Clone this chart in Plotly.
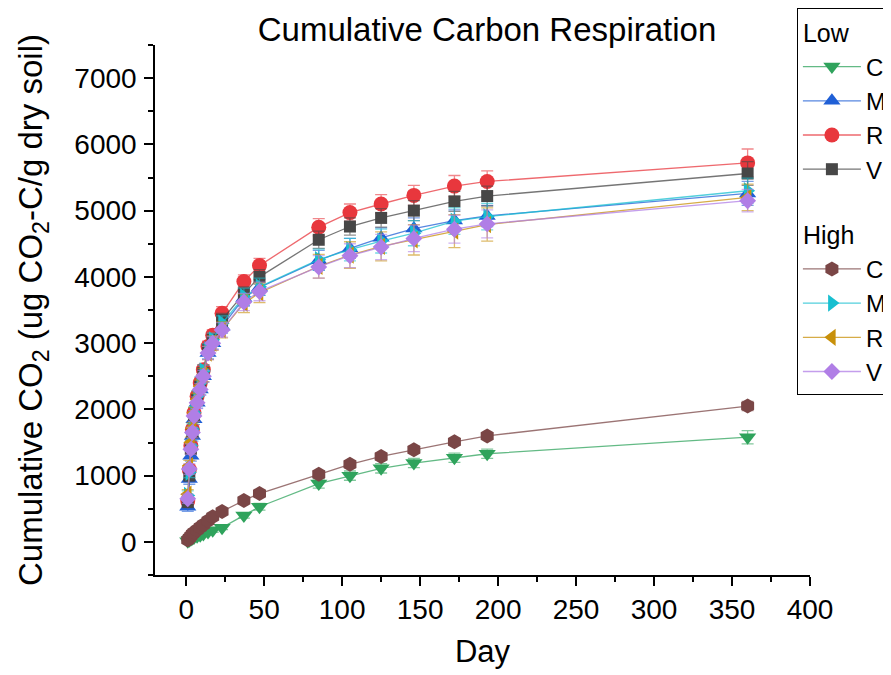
import plotly.graph_objects as go

days = [1, 2, 3, 4, 5, 7, 9, 11, 14, 17, 23, 37, 47, 85, 105, 125, 146, 172, 193, 360]

low_c = [10, 25, 40, 55, 65, 85, 100, 120, 150, 175, 215, 400, 530, 880, 1000, 1110, 1190, 1270, 1330, 1580]
low_m = [530, 950, 1300, 1600, 1850, 2100, 2300, 2500, 2850, 3000, 3250, 3680, 3840, 4250, 4430, 4590, 4730, 4850, 4920, 5260]
low_r = [620, 1090, 1450, 1700, 1950, 2200, 2400, 2600, 2950, 3120, 3450, 3930, 4170, 4750, 4970, 5100, 5230, 5370, 5440, 5720]
low_v = [600, 1000, 1400, 1650, 1900, 2150, 2350, 2550, 2900, 3050, 3350, 3750, 4000, 4560, 4760, 4890, 5000, 5140, 5220, 5560]
high_c = [30, 60, 90, 120, 140, 180, 220, 260, 320, 380, 460, 625, 730, 1020, 1170, 1290, 1390, 1510, 1600, 2050]
high_m = [700, 1050, 1450, 1700, 1950, 2200, 2400, 2580, 2900, 3050, 3300, 3700, 3850, 4260, 4410, 4540, 4660, 4840, 4910, 5300]
high_r = [720, 1150, 1500, 1720, 1950, 2150, 2350, 2520, 2850, 3000, 3200, 3600, 3760, 4160, 4330, 4460, 4560, 4690, 4790, 5200]
high_v = [650, 1100, 1400, 1650, 1900, 2100, 2300, 2500, 2850, 3000, 3200, 3620, 3780, 4150, 4320, 4450, 4580, 4720, 4800, 5150]

err_low_c = [10, 10, 15, 15, 20, 20, 25, 25, 30, 30, 30, 40, 50, 70, 70, 70, 70, 70, 70, 100]
err_low_m = [70, 80, 80, 80, 80, 80, 80, 90, 90, 90, 100, 120, 120, 150, 150, 150, 160, 160, 160, 180]
err_low_r = [60, 60, 60, 60, 60, 70, 70, 70, 80, 80, 100, 100, 110, 130, 130, 140, 150, 160, 160, 210]
err_low_v = [60, 60, 60, 60, 60, 70, 70, 70, 80, 80, 100, 100, 110, 130, 130, 140, 150, 150, 150, 180]
err_high_c = [15, 15, 20, 20, 20, 25, 25, 30, 30, 30, 30, 40, 40, 50, 50, 50, 50, 50, 50, 70]
err_high_m = [70, 80, 80, 80, 80, 80, 90, 90, 90, 100, 110, 130, 130, 160, 170, 180, 190, 200, 200, 190]
err_high_r = [70, 80, 80, 80, 80, 90, 90, 100, 100, 110, 120, 140, 150, 180, 200, 220, 230, 250, 250, 200]
err_high_v = [70, 80, 80, 80, 80, 90, 90, 90, 100, 100, 110, 130, 140, 170, 180, 190, 200, 210, 210, 170]

series = [
    ("low", "Low", "C", low_c, err_low_c, "#2fa35c", "triangle-down", 15),
    ("low", "Low", "M", low_m, err_low_m, "#1f5fd6", "triangle-up", 15),
    ("low", "Low", "R", low_r, err_low_r, "#e8373d", "circle", 15),
    ("low", "Low", "V", low_v, err_low_v, "#474747", "square", 12),
    ("high", "High", "C", high_c, err_high_c, "#7a4646", "hexagon", 15),
    ("high", "High", "M", high_m, err_high_m, "#18bfd0", "triangle-right", 15),
    ("high", "High", "R", high_r, err_high_r, "#c8900a", "triangle-left", 15),
    ("high", "High", "V", high_v, err_high_v, "#b07ee6", "diamond", 13),
]


def rgba(hex_color, a):
    h = hex_color.lstrip("#")
    r, g, b = int(h[0:2], 16), int(h[2:4], 16), int(h[4:6], 16)
    return f"rgba({r},{g},{b},{a})"


LEG_FONT = 24
fig = go.Figure()
for group, gtitle, name, vals, errs, color, symbol, size in series:
    fig.add_trace(go.Scatter(
        x=days, y=vals, name=name, mode="lines+markers",
        legendgroup=group, legendgrouptitle=dict(text=gtitle, font=dict(size=LEG_FONT + 1, color="black")),
        line=dict(color=rgba(color, 0.75), width=1.3),
        marker=dict(symbol=symbol, size=size, color=color, line=dict(width=0)),
        error_y=dict(type="data", array=errs, visible=True, color=rgba(color, 0.6), thickness=1.3, width=6),
    ))

# The page body adds an 8px offset, so the figure is sized to fit the window.
W, H = 883, 667
font_family = "Arial, Liberation Sans, sans-serif"
fig.update_layout(
    width=W, height=H,
    margin=dict(l=147, r=W - 802, t=37, b=H - 567, autoexpand=False),
    paper_bgcolor="white", plot_bgcolor="white",
    font=dict(family=font_family, color="black", size=26),
    title=dict(text="Cumulative Carbon Respiration", x=479 / W, xanchor="center",
               y=1 - 21 / H, yanchor="middle",
               font=dict(size=33, family=font_family, color="black")),
    legend=dict(x=0.98, y=1 + 37 / 530, xanchor="left", yanchor="top", bordercolor="black", borderwidth=1,
                bgcolor="white", font=dict(size=LEG_FONT, family=font_family), itemwidth=58,
                tracegroupgap=30, groupclick="toggleitem", maxheight=420),
    xaxis=dict(range=[-20, 400], showline=True, linecolor="black", linewidth=1.5, ticks="outside",
               ticklen=9, tickwidth=1.5, tickcolor="black", dtick=50, tick0=0, showgrid=False, zeroline=False,
               tickfont=dict(size=28), title=dict(text="Day", font=dict(size=31), standoff=16),
               minor=dict(ticks="outside", ticklen=5, tickwidth=1.5, tickcolor="black", dtick=25, showgrid=False)),
    yaxis=dict(range=[-500, 7500], showline=True, linecolor="black", linewidth=1.5, ticks="outside",
               ticklen=9, tickwidth=1.5, tickcolor="black", dtick=1000, tick0=0, showgrid=False, zeroline=False,
               tickfont=dict(size=28), ticklabelstandoff=2,
               title=dict(text="Cumulative CO<sub>2</sub> (ug CO<sub>2</sub>-C/g dry soil)", font=dict(size=33), standoff=22),
               minor=dict(ticks="outside", ticklen=5, tickwidth=1.5, tickcolor="black", dtick=500, showgrid=False)),
)

fig.write_html("out.html")
